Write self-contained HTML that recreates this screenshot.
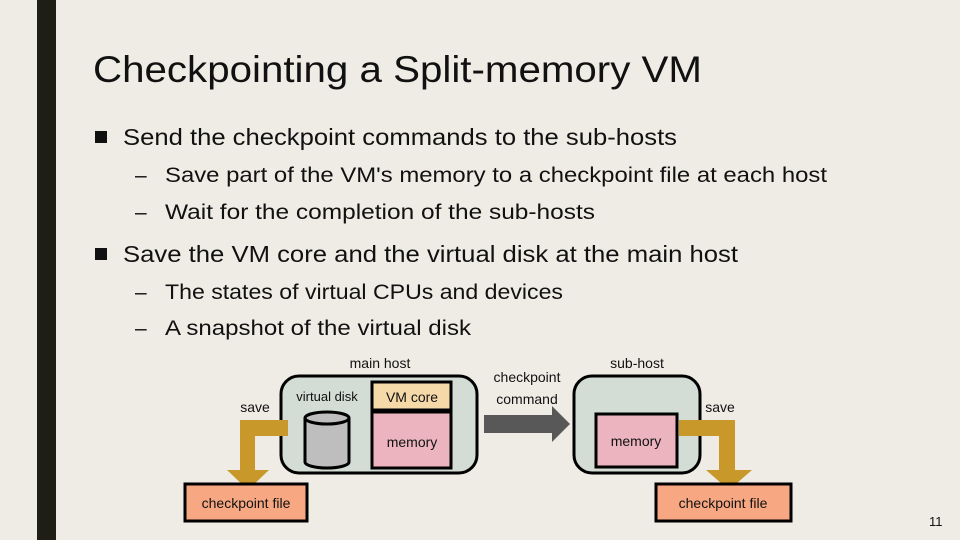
<!DOCTYPE html>
<html><head><meta charset="utf-8"><style>
html,body{margin:0;padding:0;background:#efece5;}
svg{display:block;font-family:"Liberation Sans",sans-serif;}
</style></head><body>
<svg width="960" height="540" viewBox="0 0 960 540" xmlns="http://www.w3.org/2000/svg">
<rect width="960" height="540" fill="#efece5"/>
<rect x="37" y="0" width="19" height="540" fill="#1e1e14"/>
<g fill="#111">
<text x="93" y="82" font-size="37" textLength="609" lengthAdjust="spacingAndGlyphs">Checkpointing a Split-memory VM</text>
<rect x="95" y="131" width="12" height="12"/>
<text x="123" y="145" font-size="23" textLength="554" lengthAdjust="spacingAndGlyphs">Send the checkpoint commands to the sub-hosts</text>
<text x="135" y="182" font-size="21">–</text>
<text x="165" y="182" font-size="21" textLength="662" lengthAdjust="spacingAndGlyphs">Save part of the VM's memory to a checkpoint file at each host</text>
<text x="135" y="219" font-size="21">–</text>
<text x="165" y="219" font-size="21" textLength="430" lengthAdjust="spacingAndGlyphs">Wait for the completion of the sub-hosts</text>
<rect x="95" y="248" width="12" height="12"/>
<text x="123" y="262" font-size="23" textLength="615" lengthAdjust="spacingAndGlyphs">Save the VM core and the virtual disk at the main host</text>
<text x="135" y="299" font-size="21">–</text>
<text x="165" y="299" font-size="21" textLength="398" lengthAdjust="spacingAndGlyphs">The states of virtual CPUs and devices</text>
<text x="135" y="335" font-size="21">–</text>
<text x="165" y="335" font-size="21" textLength="306" lengthAdjust="spacingAndGlyphs">A snapshot of the virtual disk</text>
<text x="929" y="526" font-size="13">11</text>
</g>
<!-- main host -->
<rect x="281" y="376" width="196" height="97" rx="18" fill="#d3ddd6" stroke="#000" stroke-width="3"/>
<rect x="372" y="382" width="79" height="28" fill="#f5d9a8" stroke="#000" stroke-width="3"/>
<rect x="372" y="412" width="79" height="56" fill="#ebb4be" stroke="#000" stroke-width="3"/>
<path d="M305 418 V462 A22 6 0 0 0 349 462 V418" fill="#bebebe" stroke="#000" stroke-width="3"/>
<ellipse cx="327" cy="418" rx="22" ry="6" fill="#bebebe" stroke="#000" stroke-width="3"/>
<!-- left save arrow -->
<path d="M288 420 H240 V470 H227 L248 490 L269 470 H255 V436 H288 Z" fill="#c8982a"/>
<rect x="185" y="484" width="122" height="37" fill="#f7a882" stroke="#000" stroke-width="3"/>
<!-- sub-host -->
<rect x="574" y="376" width="126" height="97" rx="18" fill="#d3ddd6" stroke="#000" stroke-width="3"/>
<rect x="596" y="414" width="81" height="53" fill="#ebb4be" stroke="#000" stroke-width="3"/>
<path d="M679 420 H735 V470 H752 L729 490 L706 470 H719 V436 H679 Z" fill="#c8982a"/>
<rect x="656" y="484" width="135" height="37" fill="#f7a882" stroke="#000" stroke-width="3"/>
<!-- command arrow -->
<path d="M484 415 H552 V406 L570 424 L552 442 V433 H484 Z" fill="#585858"/>
<g fill="#111" font-size="14">
<text x="380" y="368" text-anchor="middle">main host</text>
<text x="327" y="401" text-anchor="middle" font-size="13">virtual disk</text>
<text x="412" y="402" text-anchor="middle">VM core</text>
<text x="412" y="447" text-anchor="middle">memory</text>
<text x="255" y="412" text-anchor="middle">save</text>
<text x="246" y="508" text-anchor="middle">checkpoint file</text>
<text x="527" y="382" text-anchor="middle">checkpoint</text>
<text x="527" y="404" text-anchor="middle">command</text>
<text x="637" y="368" text-anchor="middle">sub-host</text>
<text x="636" y="446" text-anchor="middle">memory</text>
<text x="720" y="412" text-anchor="middle">save</text>
<text x="723" y="508" text-anchor="middle">checkpoint file</text>
</g>
</svg>
</body></html>
